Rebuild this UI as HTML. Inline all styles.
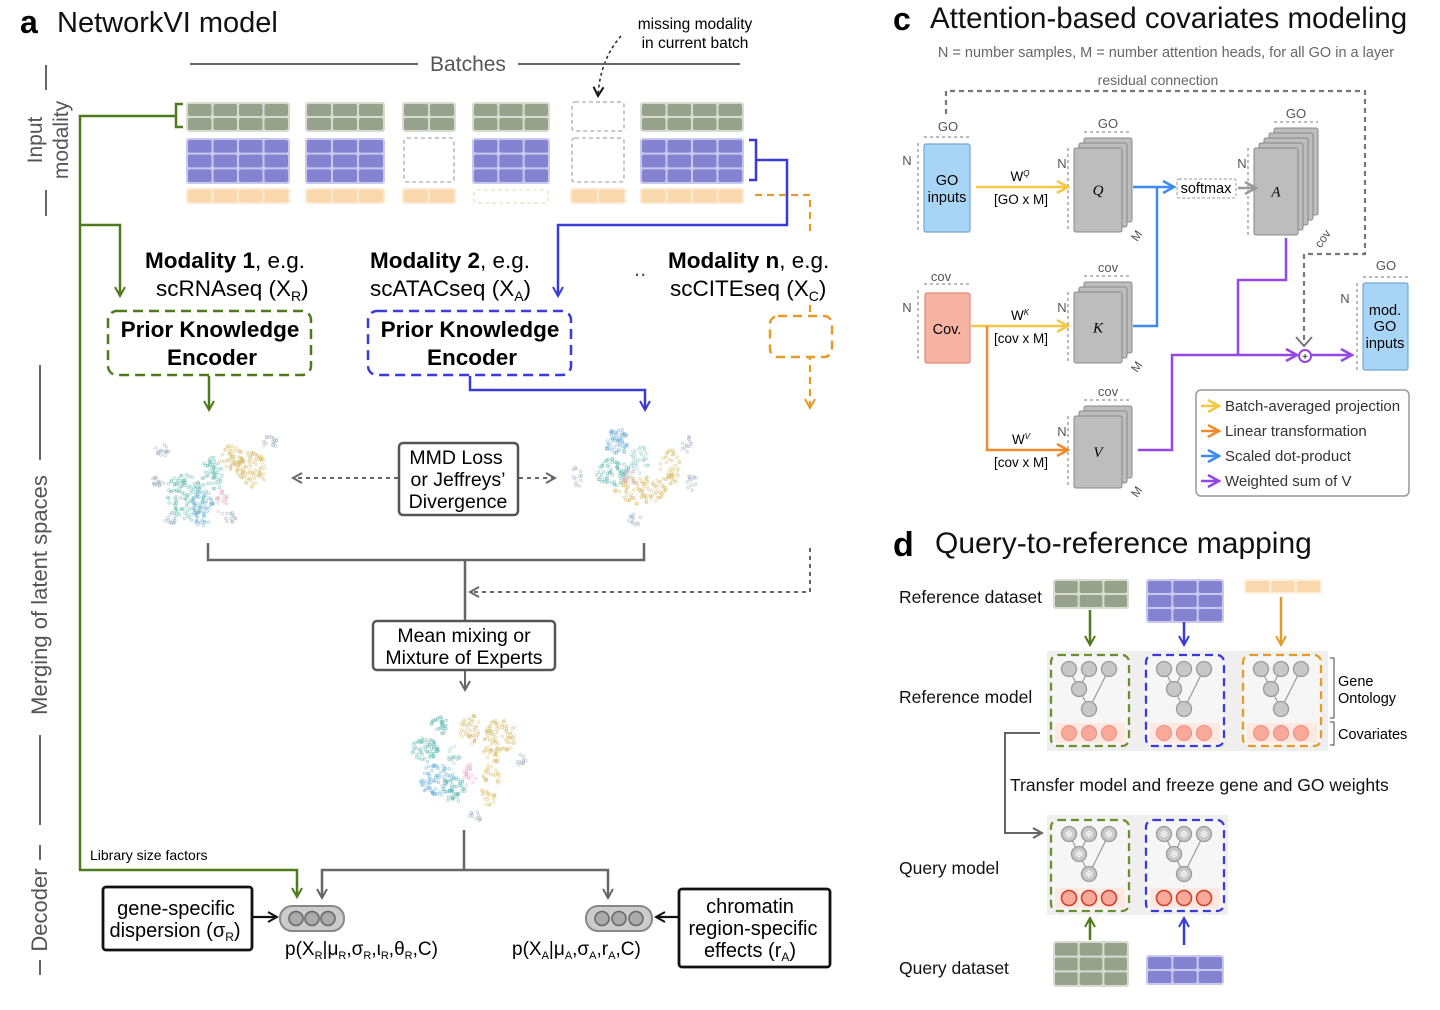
<!DOCTYPE html>
<html><head><meta charset="utf-8"><style>
html,body{margin:0;padding:0;background:#fff;}
svg{display:block;font-family:"Liberation Sans","DejaVu Sans",sans-serif;}
</style></head><body>
<svg id="s" width="1440" height="1010" viewBox="0 0 1440 1010" xmlns="http://www.w3.org/2000/svg">
<defs>
<marker id="ag" viewBox="0 0 12 12" refX="10" refY="6" markerWidth="12" markerHeight="12" orient="auto" markerUnits="userSpaceOnUse"><path d="M1,1 L10,6 L1,11" fill="none" stroke="#4f7a1c" stroke-width="2"/></marker>
<marker id="ab" viewBox="0 0 12 12" refX="10" refY="6" markerWidth="12" markerHeight="12" orient="auto" markerUnits="userSpaceOnUse"><path d="M1,1 L10,6 L1,11" fill="none" stroke="#3a3ad6" stroke-width="2"/></marker>
<marker id="ao" viewBox="0 0 12 12" refX="10" refY="6" markerWidth="12" markerHeight="12" orient="auto" markerUnits="userSpaceOnUse"><path d="M1,1 L10,6 L1,11" fill="none" stroke="#e69a28" stroke-width="2"/></marker>
<marker id="ak" viewBox="0 0 12 12" refX="10" refY="6" markerWidth="12" markerHeight="12" orient="auto" markerUnits="userSpaceOnUse"><path d="M1,1 L10,6 L1,11" fill="none" stroke="#666" stroke-width="2"/></marker>
<marker id="akk" viewBox="0 0 12 12" refX="10" refY="6" markerWidth="12" markerHeight="12" orient="auto" markerUnits="userSpaceOnUse"><path d="M1,1 L10,6 L1,11" fill="none" stroke="#111" stroke-width="2"/></marker>
<marker id="ay" viewBox="0 0 14 14" refX="12" refY="7" markerWidth="14" markerHeight="14" orient="auto" markerUnits="userSpaceOnUse"><path d="M1,1 L12,7 L1,13" fill="none" stroke="#f5c842" stroke-width="2.5"/></marker>
<marker id="aor" viewBox="0 0 14 14" refX="12" refY="7" markerWidth="14" markerHeight="14" orient="auto" markerUnits="userSpaceOnUse"><path d="M1,1 L12,7 L1,13" fill="none" stroke="#f08a2a" stroke-width="2.5"/></marker>
<marker id="abl" viewBox="0 0 14 14" refX="12" refY="7" markerWidth="14" markerHeight="14" orient="auto" markerUnits="userSpaceOnUse"><path d="M1,1 L12,7 L1,13" fill="none" stroke="#3d8bf0" stroke-width="2.5"/></marker>
<marker id="apu" viewBox="0 0 14 14" refX="12" refY="7" markerWidth="14" markerHeight="14" orient="auto" markerUnits="userSpaceOnUse"><path d="M1,1 L12,7 L1,13" fill="none" stroke="#9447e6" stroke-width="2.5"/></marker>
<marker id="agr" viewBox="0 0 14 14" refX="12" refY="7" markerWidth="14" markerHeight="14" orient="auto" markerUnits="userSpaceOnUse"><path d="M1,1 L12,7 L1,13" fill="none" stroke="#999" stroke-width="2.5"/></marker>
</defs>

<!-- ===== Panel a ===== -->
<text x="20" y="33" font-size="32" font-weight="bold">a</text>
<text x="57" y="32" font-size="29" fill="#111">NetworkVI model</text>
<text x="695" y="29" font-size="15.5" text-anchor="middle">missing modality</text>
<text x="695" y="48" font-size="15.5" text-anchor="middle">in current batch</text>
<path d="M621,36 Q600,60 598,96" fill="none" stroke="#222" stroke-width="1.5" stroke-dasharray="3,3" marker-end="url(#akk)"/>
<line x1="190" y1="64" x2="418" y2="64" stroke="#666" stroke-width="2"/>
<line x1="518" y1="64" x2="740" y2="64" stroke="#666" stroke-width="2"/>
<text x="468" y="71" font-size="21" fill="#555" text-anchor="middle">Batches</text>

<line x1="46" y1="65" x2="46" y2="90" stroke="#666" stroke-width="2"/>
<line x1="46" y1="190" x2="46" y2="216" stroke="#666" stroke-width="2"/>
<text transform="translate(42,140) rotate(-90)" font-size="21" fill="#555" text-anchor="middle">Input</text>
<text transform="translate(68,140) rotate(-90)" font-size="21" fill="#555" text-anchor="middle">modality</text>
<line x1="40" y1="365" x2="40" y2="460" stroke="#666" stroke-width="2"/>
<line x1="40" y1="735" x2="40" y2="825" stroke="#666" stroke-width="2"/>
<text transform="translate(47,595) rotate(-90)" font-size="22" fill="#555" text-anchor="middle">Merging of latent spaces</text>
<line x1="40" y1="845" x2="40" y2="860" stroke="#666" stroke-width="2"/>
<line x1="40" y1="960" x2="40" y2="975" stroke="#666" stroke-width="2"/>
<text transform="translate(47,910) rotate(-90)" font-size="22" fill="#555" text-anchor="middle">Decoder</text>

<g id="grids"></g>
<rect x="572" y="102" width="52" height="29" rx="3" fill="none" stroke="#aaa" stroke-width="1.3" stroke-dasharray="4,3"/>
<rect x="404" y="138" width="50" height="44" rx="3" fill="none" stroke="#aaa" stroke-width="1.3" stroke-dasharray="4,3"/>
<rect x="572" y="138" width="52" height="44" rx="3" fill="none" stroke="#aaa" stroke-width="1.3" stroke-dasharray="4,3"/>
<rect x="474" y="190" width="74" height="13" rx="3" fill="none" stroke="#f2dcb8" stroke-width="1.3" stroke-dasharray="4,3"/>

<path d="M183,104 L176,104 L176,127 L183,127" fill="none" stroke="#4f7a1c" stroke-width="2.5"/>
<path d="M176,116 L80,116 L80,870 L297,870 L297,897" fill="none" stroke="#4f7a1c" stroke-width="2.5" marker-end="url(#ag)"/>
<path d="M80,225 L120,225 L120,296" fill="none" stroke="#4f7a1c" stroke-width="2.5" marker-end="url(#ag)"/>
<path d="M749,140 L756,140 L756,180 L749,180" fill="none" stroke="#3a3ad6" stroke-width="2.5"/>
<path d="M756,160 L787,160 L787,225 L558,225 L558,296" fill="none" stroke="#3a3ad6" stroke-width="2.5" marker-end="url(#ab)"/>
<path d="M755,195 L810,195 L810,232" fill="none" stroke="#e69a28" stroke-width="2.2" stroke-dasharray="7,5"/>
<path d="M810,305 L810,408" fill="none" stroke="#e69a28" stroke-width="2.2" stroke-dasharray="7,5" marker-end="url(#ao)"/>
<rect x="770" y="316" width="62" height="41" rx="8" fill="#fff" stroke="#e69a28" stroke-width="2.5" stroke-dasharray="9,6"/>

<text x="145" y="268" font-size="22.5"><tspan font-weight="bold">Modality 1</tspan>, e.g.</text>
<text x="156" y="296" font-size="22.5">scRNAseq (X<tspan font-size="14" dy="5">R</tspan><tspan dy="-5">)</tspan></text>
<text x="370" y="268" font-size="22.5"><tspan font-weight="bold">Modality 2</tspan>, e.g.</text>
<text x="370" y="296" font-size="22.5">scATACseq (X<tspan font-size="14" dy="5">A</tspan><tspan dy="-5">)</tspan></text>
<text x="634" y="276" font-size="22" fill="#555">..</text>
<text x="668" y="268" font-size="22.5"><tspan font-weight="bold">Modality n</tspan>, e.g.</text>
<text x="670" y="296" font-size="22.5">scCITEseq (X<tspan font-size="14" dy="5">C</tspan><tspan dy="-5">)</tspan></text>

<rect x="108" y="311" width="203" height="64" rx="9" fill="none" stroke="#4f7a1c" stroke-width="2.5" stroke-dasharray="10,6"/>
<text x="210" y="337" font-size="22.5" font-weight="bold" text-anchor="middle">Prior Knowledge</text>
<text x="212" y="365" font-size="22.5" font-weight="bold" text-anchor="middle">Encoder</text>
<rect x="368" y="311" width="203" height="64" rx="9" fill="none" stroke="#3a3ad6" stroke-width="2.5" stroke-dasharray="10,6"/>
<text x="470" y="337" font-size="22.5" font-weight="bold" text-anchor="middle">Prior Knowledge</text>
<text x="472" y="365" font-size="22.5" font-weight="bold" text-anchor="middle">Encoder</text>
<path d="M209,376 L209,410" fill="none" stroke="#4f7a1c" stroke-width="2.5" marker-end="url(#ag)"/>
<path d="M470,376 L470,390 L645,390 L645,410" fill="none" stroke="#3a3ad6" stroke-width="2.5" marker-end="url(#ab)"/>

<g id="umaps"></g>

<rect x="399" y="443" width="119" height="72" rx="4" fill="#fff" stroke="#555" stroke-width="2.5"/>
<text x="456" y="464" font-size="19.5" text-anchor="middle">MMD Loss</text>
<text x="458" y="486" font-size="19.5" text-anchor="middle">or Jeffreys’</text>
<text x="458" y="508" font-size="19.5" text-anchor="middle">Divergence</text>
<path d="M398,478 L293,478" fill="none" stroke="#666" stroke-width="2" stroke-dasharray="4,4" marker-end="url(#ak)"/>
<path d="M519,478 L555,478" fill="none" stroke="#666" stroke-width="2" stroke-dasharray="4,4" marker-end="url(#ak)"/>
<path d="M208,543 L208,560 L644,560 L644,543 M465,560 L465,621" fill="none" stroke="#666" stroke-width="2.5"/>
<path d="M810,548 L810,592 L470,592" fill="none" stroke="#666" stroke-width="2" stroke-dasharray="4,4" marker-end="url(#ak)"/>
<rect x="373" y="621" width="182" height="49" rx="4" fill="#fff" stroke="#555" stroke-width="2.5"/>
<text x="464" y="642" font-size="19.5" text-anchor="middle">Mean mixing or</text>
<text x="464" y="664" font-size="19.5" text-anchor="middle">Mixture of Experts</text>
<path d="M465,671 L465,690" fill="none" stroke="#666" stroke-width="2" marker-end="url(#ak)"/>
<path d="M464,830 L464,870 M322,897 L322,870 L608,870 L608,897" fill="none" stroke="#666" stroke-width="2.5"/>
<path d="M322,880 L322,898" stroke="#666" stroke-width="2" marker-end="url(#ak)"/>
<path d="M608,880 L608,898" stroke="#666" stroke-width="2" marker-end="url(#ak)"/>
<text x="90" y="860" font-size="14">Library size factors</text>

<rect x="103" y="887" width="149" height="63" rx="3" fill="#fff" stroke="#111" stroke-width="2.8"/>
<text x="176" y="915" font-size="20" text-anchor="middle">gene-specific</text>
<text x="175" y="937" font-size="20" text-anchor="middle">dispersion (σ<tspan font-size="12" dy="4">R</tspan><tspan dy="-4">)</tspan></text>
<path d="M253,917 L277,917" stroke="#111" stroke-width="2.2" marker-end="url(#akk)"/>
<rect x="280" y="906" width="64" height="25" rx="12" fill="#ccc" stroke="#888" stroke-width="2"/>
<circle cx="296" cy="918.5" r="7" fill="#aaa" stroke="#666" stroke-width="1.5"/>
<circle cx="312" cy="918.5" r="7" fill="#aaa" stroke="#666" stroke-width="1.5"/>
<circle cx="328" cy="918.5" r="7" fill="#aaa" stroke="#666" stroke-width="1.5"/>
<text x="285" y="955" font-size="19">p(X<tspan font-size="11" dy="4">R</tspan><tspan dy="-4">|μ</tspan><tspan font-size="11" dy="4">R</tspan><tspan dy="-4">,σ</tspan><tspan font-size="11" dy="4">R</tspan><tspan dy="-4">,ι</tspan><tspan font-size="11" dy="4">R</tspan><tspan dy="-4">,θ</tspan><tspan font-size="11" dy="4">R</tspan><tspan dy="-4">,C)</tspan></text>
<rect x="586" y="906" width="66" height="25" rx="12" fill="#ccc" stroke="#888" stroke-width="2"/>
<circle cx="602" cy="918.5" r="7" fill="#aaa" stroke="#666" stroke-width="1.5"/>
<circle cx="619" cy="918.5" r="7" fill="#aaa" stroke="#666" stroke-width="1.5"/>
<circle cx="636" cy="918.5" r="7" fill="#aaa" stroke="#666" stroke-width="1.5"/>
<path d="M678,917 L656,917" stroke="#111" stroke-width="2.2" marker-end="url(#akk)"/>
<text x="512" y="955" font-size="19">p(X<tspan font-size="11" dy="4">A</tspan><tspan dy="-4">|μ</tspan><tspan font-size="11" dy="4">A</tspan><tspan dy="-4">,σ</tspan><tspan font-size="11" dy="4">A</tspan><tspan dy="-4">,r</tspan><tspan font-size="11" dy="4">A</tspan><tspan dy="-4">,C)</tspan></text>
<rect x="679" y="889" width="151" height="78" rx="3" fill="#fff" stroke="#111" stroke-width="2.8"/>
<text x="750" y="913" font-size="20" text-anchor="middle">chromatin</text>
<text x="753" y="935" font-size="20" text-anchor="middle">region-specific</text>
<text x="750" y="957" font-size="20" text-anchor="middle">effects (r<tspan font-size="12" dy="4">A</tspan><tspan dy="-4">)</tspan></text>

<!-- ===== Panel c ===== -->
<text x="893" y="30" font-size="32" font-weight="bold">c</text>
<text x="930" y="28" font-size="29.5" fill="#111">Attention-based covariates modeling</text>
<text x="1166" y="57" font-size="14.5" fill="#666" text-anchor="middle">N = number samples, M = number attention heads, for all GO in a layer</text>
<text x="1158" y="85" font-size="14" fill="#666" text-anchor="middle">residual connection</text>
<path d="M946,114 L946,91 L1365,91 L1365,254 L1304,254 L1304,345" fill="none" stroke="#777" stroke-width="2.2" stroke-dasharray="5,4"/>
<path d="M1296,337 L1304,346 L1312,337" fill="none" stroke="#777" stroke-width="2"/>

<g font-size="13" fill="#555">
<path d="M918,143 L918,233 M924,137 L970,137" stroke="#777" stroke-dasharray="3,3" fill="none"/>
<text x="948" y="131" text-anchor="middle">GO</text><text x="907" y="165" text-anchor="middle">N</text>
<path d="M918,290 L918,360 M924,284 L970,284" stroke="#777" stroke-dasharray="3,3" fill="none"/>
<text x="941" y="281" text-anchor="middle">cov</text><text x="907" y="312" text-anchor="middle">N</text>
<path d="M1357,283 L1357,370 M1363,277 L1408,277" stroke="#777" stroke-dasharray="3,3" fill="none"/>
<text x="1386" y="270" text-anchor="middle">GO</text><text x="1345" y="303" text-anchor="middle">N</text>
</g>
<rect x="924" y="144" width="46" height="88" rx="2" fill="#a8d4f6" stroke="#6fa8d6" stroke-width="1.2"/>
<text x="947" y="185" font-size="14.5" text-anchor="middle">GO</text>
<text x="947" y="202" font-size="14.5" text-anchor="middle">inputs</text>
<rect x="925" y="293" width="45" height="70" rx="2" fill="#f8b4a2" stroke="#e08a78" stroke-width="1.2"/>
<text x="947" y="334" font-size="14.5" text-anchor="middle">Cov.</text>
<rect x="1363" y="283" width="45" height="87" rx="2" fill="#a8d4f6" stroke="#6fa8d6" stroke-width="1.2"/>
<text x="1385" y="315" font-size="14.5" text-anchor="middle">mod.</text>
<text x="1385" y="331" font-size="14.5" text-anchor="middle">GO</text>
<text x="1385" y="348" font-size="14.5" text-anchor="middle">inputs</text>

<g id="stacks"></g>

<path d="M976,187 L1068,187" stroke="#f5c842" stroke-width="2.5" marker-end="url(#ay)"/>
<text x="1020" y="181" font-size="13.5" text-anchor="middle">W<tspan font-size="8" dy="-5" font-style="italic">Q</tspan></text>
<text x="1021" y="204" font-size="13.5" text-anchor="middle">[GO x M]</text>
<path d="M971,326 L1068,326" stroke="#f5c842" stroke-width="2.5" marker-end="url(#ay)"/>
<text x="1020" y="320" font-size="13.5" text-anchor="middle">W<tspan font-size="8" dy="-5" font-style="italic">K</tspan></text>
<text x="1021" y="343" font-size="13.5" text-anchor="middle">[cov x M]</text>
<path d="M987,326 L987,450 L1068,450" fill="none" stroke="#f08a2a" stroke-width="2.5" marker-end="url(#aor)"/>
<text x="1021" y="444" font-size="13.5" text-anchor="middle">W<tspan font-size="8" dy="-5" font-style="italic">V</tspan></text>
<text x="1021" y="467" font-size="13.5" text-anchor="middle">[cov x M]</text>
<path d="M1133,187 L1174,187" stroke="#3d8bf0" stroke-width="2.5" marker-end="url(#abl)"/>
<path d="M1133,326 L1157,326 L1157,187" fill="none" stroke="#3d8bf0" stroke-width="2.5"/>
<rect x="1177" y="179" width="59" height="19" rx="2" fill="#fff" stroke="#999" stroke-dasharray="3,2"/>
<text x="1206" y="193" font-size="14.5" text-anchor="middle">softmax</text>
<path d="M1238,188 L1256,188" stroke="#999" stroke-width="2.5" marker-end="url(#agr)"/>
<path d="M1138,450 L1172,450 L1172,355 L1297,355" fill="none" stroke="#9447e6" stroke-width="2.5" marker-end="url(#apu)"/>
<path d="M1286,238 L1286,280 L1238,280 L1238,355" fill="none" stroke="#9447e6" stroke-width="2.5"/>
<circle cx="1305" cy="356" r="6" fill="#fff" stroke="#9447e6" stroke-width="2"/>
<text x="1305" y="360" font-size="10" text-anchor="middle">+</text>
<path d="M1311,355 L1352,355" stroke="#9447e6" stroke-width="2.5" marker-end="url(#apu)"/>

<rect x="1196" y="390" width="213" height="106" rx="5" fill="#fff" stroke="#999" stroke-width="1.5"/>
<path d="M1201,406 L1219,406" stroke="#f5c842" stroke-width="2.5" marker-end="url(#ay)"/>
<path d="M1201,431 L1219,431" stroke="#f08a2a" stroke-width="2.5" marker-end="url(#aor)"/>
<path d="M1201,456 L1219,456" stroke="#3d8bf0" stroke-width="2.5" marker-end="url(#abl)"/>
<path d="M1201,481 L1219,481" stroke="#9447e6" stroke-width="2.5" marker-end="url(#apu)"/>
<g font-size="15" fill="#333">
<text x="1225" y="411">Batch-averaged projection</text>
<text x="1225" y="436">Linear transformation</text>
<text x="1225" y="461">Scaled dot-product</text>
<text x="1225" y="486">Weighted sum of V</text>
</g>

<!-- ===== Panel d ===== -->
<text x="893" y="556" font-size="34" font-weight="bold">d</text>
<text x="935" y="553" font-size="30" fill="#111">Query-to-reference mapping</text>
<g font-size="17.5" fill="#111">
<text x="899" y="603">Reference dataset</text>
<text x="899" y="703">Reference model</text>
<text x="1010" y="791">Transfer model and freeze gene and GO weights</text>
<text x="899" y="874">Query model</text>
<text x="899" y="974">Query dataset</text>
</g>
<rect x="1047" y="651" width="281" height="100" fill="#efefef"/>
<rect x="1047" y="815" width="181" height="100" fill="#efefef"/>
<g id="models"></g>
<path d="M1090,610 L1090,645" stroke="#4f7a1c" stroke-width="2.5" marker-end="url(#ag)"/>
<path d="M1184,622 L1184,645" stroke="#3a3ad6" stroke-width="2.5" marker-end="url(#ab)"/>
<path d="M1281,597 L1281,645" stroke="#e69a28" stroke-width="2.5" marker-end="url(#ao)"/>
<path d="M1090,940 L1090,918" stroke="#4f7a1c" stroke-width="2.5" marker-end="url(#ag)"/>
<path d="M1184,945 L1184,918" stroke="#3a3ad6" stroke-width="2.5" marker-end="url(#ab)"/>
<path d="M1040,733 L1005,733 L1005,833 L1042,833" fill="none" stroke="#666" stroke-width="2" marker-end="url(#ak)"/>
<path d="M1330,658 L1334,658 L1334,718 L1330,718 M1330,722 L1334,722 L1334,745 L1330,745" fill="none" stroke="#666" stroke-width="1.2"/>
<text x="1338" y="686" font-size="14.5">Gene</text>
<text x="1338" y="703" font-size="14.5">Ontology</text>
<text x="1338" y="739" font-size="14.5">Covariates</text>
</svg>
<script>
var NS="http://www.w3.org/2000/svg";
function el(p,t,a){var e=document.createElementNS(NS,t);for(var k in a)e.setAttribute(k,a[k]);p.appendChild(e);return e;}
var G=document.getElementById("grids");
function grid(p,x,y,w,h,cols,rows,c,bg){
 el(p,"rect",{x:x-2,y:y-2,width:w+4,height:h+4,rx:3,fill:bg});
 var cw=(w-(cols-1)*2)/cols,ch=(h-(rows-1)*2)/rows;
 for(var i=0;i<cols;i++)for(var j=0;j<rows;j++)el(p,"rect",{x:x+i*(cw+2),y:y+j*(ch+2),width:cw,height:ch,rx:2,fill:c});
}
var gc="#97a28c",gb="#d6dccf",pc="#8383d2",pb="#c8c8ee",oc="#fad8ae",ob="#fde9d2";
[[188,100,4],[307,76,3],[404,50,2],[474,74,3],[642,100,4]].forEach(function(a){grid(G,a[0],104,a[1],26,a[2],2,gc,gb);});
[[188,100,4],[307,76,3],[474,74,3],[642,100,4]].forEach(function(a){grid(G,a[0],140,a[1],42,a[2],3,pc,pb);});
[[188,100,4],[307,76,3],[404,50,2],[572,52,2],[642,100,4]].forEach(function(a){grid(G,a[0],190,a[1],12,a[2],1,oc,ob);});
grid(G,1055,581,72,26,3,2,gc,gb);
grid(G,1148,581,74,40,3,3,pc,pb);
grid(G,1246,581,74,11,3,1,oc,"#fef0dd");
grid(G,1055,943,72,42,3,3,gc,gb);
grid(G,1148,957,74,26,3,2,pc,pb);
var seed=7;function r(){seed=(seed*16807)%2147483647;return seed/2147483647;}
var U=document.getElementById("umaps");
function cl(cx,cy,rx,ry,c,n){for(var i=0;i<n;i++){var a=r()*6.283,d=Math.sqrt(r());el(U,"circle",{cx:cx+Math.cos(a)*rx*d,cy:cy+Math.sin(a)*ry*d,r:1.3,fill:"none",stroke:c,"stroke-width":0.8,opacity:0.55});}}
var T="#5fb8b0",B="#6aaed6",Y="#d8bd6c",P="#e6aac4",Gx="#9ab",L="#9cc";
function umap(ox,oy,k){
 if(k==0){cl(ox-28,oy+18,20,24,T,110);cl(ox-10,oy+28,12,18,B,60);cl(ox,oy-5,11,18,T,50);cl(ox+40,oy-10,16,18,Y,90);cl(ox+20,oy-22,11,14,Y,50);cl(ox+10,oy+22,6,12,P,20);cl(ox-50,oy-30,8,6,Gx,15);cl(ox-55,oy+2,7,6,Gx,15);cl(ox+58,oy-38,8,6,Gx,15);cl(ox+18,oy+38,7,6,Gx,12);cl(ox-42,oy+42,6,5,Gx,10);}
 if(k==1){cl(ox-18,oy-30,12,14,B,60);cl(ox-22,oy,17,14,T,70);cl(ox+5,oy-12,10,14,L,35);cl(ox+5,oy+18,26,14,Y,100);cl(ox+35,oy-5,10,20,Y,50);cl(ox-58,oy+5,5,10,Gx,12);cl(ox+52,oy-28,6,9,Gx,12);cl(ox+58,oy+10,6,9,Gx,12);cl(ox,oy+48,7,6,Gx,12);cl(ox-5,oy+5,7,7,P,15);}
 if(k==2){cl(ox-40,oy-15,14,12,T,60);cl(ox-28,oy+15,18,16,B,80);cl(ox-10,oy+25,12,14,T,45);cl(ox-25,oy-40,9,10,T,30);cl(ox+5,oy-35,10,16,Y,45);cl(ox+35,oy-30,16,18,Y,80);cl(ox+25,oy+10,10,32,Y,65);cl(ox+5,oy+10,6,14,P,20);cl(ox-10,oy-10,7,9,L,20);cl(ox+55,oy-5,6,7,Gx,10);cl(ox+10,oy+52,7,6,Gx,10);}
}
umap(212,480,0);umap(635,472,1);umap(465,765,2);
var S=document.getElementById("stacks");
function stack(x,y,w,h,n,lab,top,side){
 for(var i=n-1;i>=0;i--){el(S,"rect",{x:x+i*5,y:y-i*5,width:w,height:h,rx:2,fill:"#bdbdbd",stroke:"#888","stroke-width":1});}
 el(S,"path",{d:"M"+(x-6)+","+y+" L"+(x-6)+","+(y+h),stroke:"#777","stroke-dasharray":"3,3",fill:"none"});
 el(S,"path",{d:"M"+(x+(n-1)*5)+","+(y-(n-1)*5-6)+" L"+(x+(n-1)*5+w)+","+(y-(n-1)*5-6),stroke:"#777","stroke-dasharray":"3,3",fill:"none"});
 var t=el(S,"text",{x:x+w/2,y:y+h/2+5,"font-size":15,"font-family":"Liberation Serif,serif","font-style":"italic","text-anchor":"middle"});t.textContent=lab;
 t=el(S,"text",{x:x+(n-1)*5+w/2,y:y-(n-1)*5-10,"font-size":13,fill:"#555","text-anchor":"middle"});t.textContent=top;
 t=el(S,"text",{x:x-12,y:y+20,"font-size":13,fill:"#555","text-anchor":"middle"});t.textContent="N";
 t=el(S,"text",{transform:"translate("+(x+w+(n-1)*5+8)+","+(y+h+6)+") rotate(-55)","font-size":12,fill:"#555","text-anchor":"middle"});t.textContent=side;
}
stack(1074,148,48,84,3,"Q","GO","M");
stack(1074,292,48,71,3,"K","cov","M");
stack(1074,416,48,72,3,"V","cov","M");
stack(1254,148,44,87,5,"A","GO","cov");
var M=document.getElementById("models");
function model(x,y,col,frozen){
 el(M,"rect",{x:x,y:y,width:78,height:91,rx:7,fill:"#f6f6f6",stroke:col,"stroke-width":2.3,"stroke-dasharray":"8,5"});
 el(M,"rect",{x:x+4,y:y+68,width:70,height:20,fill:"#fde8e2"});
 var cx=[x+18,x+38,x+58],ty=y+14;
 el(M,"path",{d:"M"+cx[0]+","+ty+" L"+(x+28)+","+(y+34)+" L"+(x+38)+","+(y+54)+" M"+cx[1]+","+ty+" L"+(x+28)+","+(y+34)+" M"+cx[2]+","+ty+" L"+(x+38)+","+(y+54),stroke:"#999","stroke-width":1.2,fill:"none"});
 var pts=[[cx[0],ty],[cx[1],ty],[cx[2],ty],[x+28,y+34],[x+38,y+54]];
 pts.forEach(function(p){el(M,"circle",{cx:p[0],cy:p[1],r:7.5,fill:"#c8c8c8",stroke:"#999","stroke-width":1.3});
  if(frozen){var t=el(M,"text",{x:p[0],y:p[1]+4,"font-size":11,fill:"#fff","text-anchor":"middle"});t.textContent="❄";}});
 cx.forEach(function(c){el(M,"circle",{cx:c,cy:y+78,r:7.5,fill:"#f9a99a",stroke:frozen?"#d0402a":"#f08a7a","stroke-width":frozen?1.6:1});});
}
model(1051,655,"#6a8f2e",0);model(1146,655,"#3a3ad6",0);model(1243,655,"#e69a28",0);
model(1051,820,"#6a8f2e",1);model(1146,820,"#3a3ad6",1);
</script>
</body></html>
